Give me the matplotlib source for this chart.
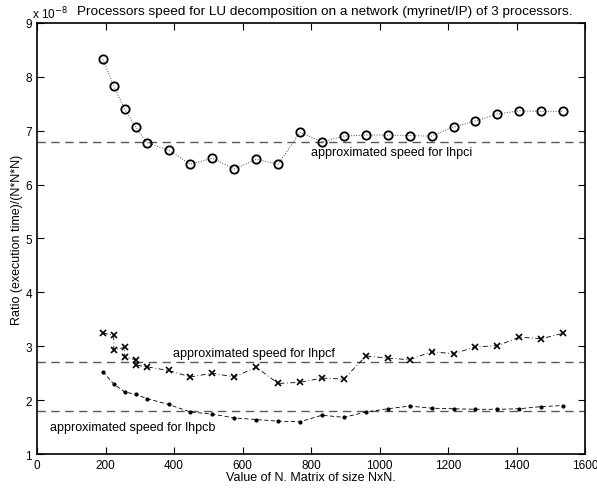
import matplotlib
matplotlib.use('Agg')
import matplotlib.pyplot as plt

plt.rcParams['font.family'] = ['Liberation Sans', 'DejaVu Sans']
plt.rcParams['font.size'] = 8

# matrix sizes N
n = [192, 224, 256, 288, 320, 384, 448, 512, 576, 640, 704, 768, 832, 896,
     960, 1024, 1088, 1152, 1216, 1280, 1344, 1408, 1472, 1536]
# lhpcf has two runs at some small sizes
n_f = [192, 224, 224, 256, 256, 288, 288, 320, 384, 448, 512, 576, 640, 704,
       768, 832, 896, 960, 1024, 1088, 1152, 1216, 1280, 1344, 1408, 1472, 1536]

# ratio (execution time)/(N*N*N), in units of 1e-8
lhpci = [8.33, 7.83, 7.40, 7.07, 6.78, 6.64, 6.38, 6.49, 6.29, 6.47, 6.38, 6.97,
         6.79, 6.90, 6.92, 6.92, 6.91, 6.90, 7.07, 7.18, 7.31, 7.37, 7.36, 7.36]
lhpcf = [3.25, 3.20, 2.93, 2.98, 2.80, 2.75, 2.65, 2.62, 2.55, 2.43, 2.50, 2.43,
         2.61, 2.31, 2.33, 2.41, 2.39, 2.82, 2.78, 2.75, 2.90, 2.86, 2.99, 3.01,
         3.17, 3.14, 3.24]
lhpcb = [2.53, 2.30, 2.15, 2.11, 2.03, 1.92, 1.78, 1.74, 1.67, 1.64, 1.61, 1.60,
         1.72, 1.68, 1.78, 1.84, 1.89, 1.85, 1.84, 1.83, 1.83, 1.84, 1.88, 1.90]

# approximated speeds
approx = {'lhpci': 6.8, 'lhpcf': 2.7, 'lhpcb': 1.8}

fig = plt.figure(figsize=(5.97, 4.89), dpi=100)
ax = fig.add_axes([0.062, 0.0695, 0.918, 0.8815])

dash = (0, (6, 4))
for k in approx:
    ax.axhline(approx[k], color='0.35', linestyle=dash, linewidth=1.0)

ax.plot(n, lhpci, linestyle=':', color='0.3', linewidth=0.7,
        marker='o', markersize=6, markerfacecolor='none',
        markeredgecolor='k', markeredgewidth=1.3)
ax.plot(n_f, lhpcf, linestyle=(0, (6, 3, 1, 3)), color='k', linewidth=0.6,
        marker='x', markersize=5, markeredgecolor='k', markeredgewidth=1.2)
ax.plot(n, lhpcb, linestyle=(0, (5, 3)), color='k', linewidth=0.6,
        marker='.', markersize=4, markeredgecolor='k')

ax.text(800, 6.6, 'approximated speed for lhpci', fontsize=9, va='center')
ax.text(397, 2.88, 'approximated speed for lhpcf', fontsize=9, va='center')
ax.text(38, 1.51, 'approximated speed for lhpcb', fontsize=9, va='center')

ax.set_xlim(0, 1600)
ax.set_ylim(1, 9)
ax.set_xticks(range(0, 1601, 200))
ax.set_yticks(range(1, 10))
ax.tick_params(direction='in', top=True, right=True, length=5, width=0.8, labelsize=8.5)
for s in ax.spines.values():
    s.set_linewidth(1.2)

ax.set_xlabel('Value of N. Matrix of size NxN.', fontsize=9, labelpad=0)
ax.set_ylabel('Ratio (execution time)/(N*N*N)', fontsize=9, labelpad=2)
ax.text(-0.01, 1.005, r'x 10$^{-8}$', transform=ax.transAxes, fontsize=8.5,
        va='bottom', ha='left')
fig.text(0.544, 0.975, 'Processors speed for LU decomposition on a network (myrinet/IP) of 3 processors.',
         ha='center', va='center', fontsize=9.7)

fig.savefig('out.png', dpi=100)
